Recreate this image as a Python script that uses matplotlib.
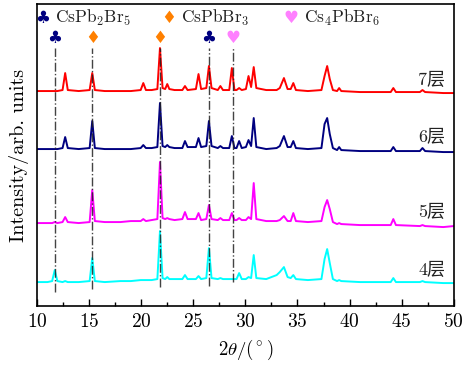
import matplotlib
matplotlib.use("Agg")
import matplotlib.pyplot as plt
import numpy as np

plt.rcParams['mathtext.fontset'] = 'cm'
plt.rcParams['font.family'] = ['cmr10', 'Noto Sans CJK SC', 'DejaVu Sans']
plt.rcParams['axes.formatter.use_mathtext'] = True

# 2theta sample points (degrees)
two_theta = [
    10.0, 11.0, 11.45, 11.7, 11.95, 12.45, 12.7, 12.95,
    14.0, 15.05, 15.3, 15.55, 16.5, 18.0, 19.0,
    19.95, 20.2, 20.45, 21.0, 21.55, 21.8, 22.05, 22.3, 22.5, 22.7, 23.2,
    23.95, 24.2, 24.45, 25.25, 25.5, 25.75, 26.25, 26.5, 26.75, 27.35, 27.6, 27.85,
    28.45, 28.7, 28.95, 29.15, 29.4, 29.65, 30.05, 30.3, 30.55, 30.8, 31.05,
    32.0, 33.0, 33.3, 33.7, 34.05, 34.35, 34.6, 34.85, 36.0,
    37.3, 37.6, 37.85, 38.1, 38.4, 38.8, 39.0, 39.2, 41.0,
    43.95, 44.2, 44.45, 46.75, 47.0, 47.25, 49.0, 50.0,
]

layer7 = [
    2, 2, 2, 2, 2, 3, 20, 3,
    2, 3, 20, 3, 2, 2, 2,
    3, 10, 3, 3, 4, 45, 5, 4, 9, 4, 3,
    3, 7, 3, 4, 19, 4, 5, 27, 5, 3, 7, 3,
    3, 25, 3, 3, 5, 3, 4, 17, 6, 26, 5,
    3, 3, 5, 15, 4, 4, 10, 3, 2,
    3, 17, 27, 14, 3, 2, 5, 2, 1,
    1, 5, 1, 1, 3, 1, 0, 0,
]
layer6 = [
    3, 3, 3, 3, 3, 4, 15, 4,
    3, 4, 31, 4, 3, 3, 3,
    4, 7, 4, 4, 5, 49, 6, 5, 7, 5, 4,
    4, 11, 5, 5, 14, 5, 6, 31, 6, 4, 6, 4,
    4, 16, 4, 4, 11, 4, 5, 12, 6, 34, 5,
    3, 4, 6, 16, 5, 5, 11, 4, 3,
    4, 28, 34, 18, 4, 2, 5, 2, 1,
    1, 5, 1, 1, 4, 1, 0, 0,
]
layer5 = [
    4, 4, 4, 5, 4, 5, 10, 5,
    4, 5, 37, 6, 5, 5, 6,
    6, 8, 6, 7, 8, 65, 9, 8, 9, 8, 7,
    8, 15, 8, 8, 14, 7, 8, 22, 8, 7, 9, 7,
    7, 14, 7, 7, 9, 7, 7, 10, 8, 44, 8,
    6, 6, 7, 11, 6, 6, 14, 6, 5,
    6, 20, 27, 18, 5, 3, 4, 3, 2,
    2, 8, 2, 1, 2, 1, 0, 1,
]
layer4 = [
    1, 1, 2, 13, 2, 1, 2, 1,
    1, 2, 25, 2, 1, 2, 2,
    3, 3, 3, 3, 4, 52, 5, 4, 6, 4, 4,
    4, 8, 4, 4, 7, 4, 5, 35, 5, 4, 5, 4,
    4, 4, 4, 4, 10, 4, 4, 6, 5, 28, 5,
    4, 8, 11, 16, 6, 5, 8, 4, 3,
    4, 24, 34, 20, 4, 2, 3, 2, 1,
    1, 5, 1, 1, 2, 1, 0, 0,
]

series = [layer7, layer6, layer5, layer4]
series_labels = ['7层', '6层', '5层', '4层']
colors = ['#ff0000', '#000080', '#ff00ff', '#00ffff']
offsets = [213, 154, 79, 23]
label_y = [226, 169, 94, 36]

ref_pos = [11.7, 15.3, 21.8, 26.5, 28.8]
ref_bottom = [14, 17, 19, 20, 24]
ref_symbol = ['♣', '♦', '♦', '♣', '♥']
phase_names = [r'$\mathrm{CsPb_2Br_5}$', r'$\mathrm{CsPbBr_3}$', r'$\mathrm{Cs_4PbBr_6}$']
phase_symbols = ['♣', '♦', '♥']
phase_colors = ['#000080', '#ff8000', '#ff80ff']
sym_color = {'♣': '#000080', '♦': '#ff8000', '♥': '#ff80ff'}

fig = plt.figure(figsize=(4.63, 3.67), dpi=100)
ax = fig.add_axes([0.080, 0.166, 0.900, 0.823])

x = np.array(two_theta)
for ys, c, off in zip(series, colors, offsets):
    ax.plot(x, np.array(ys) + off, color=c, lw=1.4, zorder=2)

for p, b, s in zip(ref_pos, ref_bottom, ref_symbol):
    ax.plot([p, p], [b, 258], color='#222222', lw=1.0, ls='-.', alpha=0.85, zorder=3)
    ax.text(p, 268, s, color=sym_color[s], ha='center', va='center', fontsize=12,
            family='DejaVu Sans')

hx = [10.5, 22.6, 34.4]
for hxi, sym, name, col in zip(hx, phase_symbols, phase_names, phase_colors):
    ax.text(hxi, 288, sym, color=col, ha='center', va='center', fontsize=12, family='DejaVu Sans')
    ax.text(hxi + 1.2, 288, name, color='#222222', ha='left', va='center', fontsize=12.5)

for lab, ly in zip(series_labels, label_y):
    ax.text(49.2, ly, lab, ha='right', va='center', fontsize=13, color='#222222',
            family=['cmr10', 'Noto Sans CJK SC'])

ax.set_xlim(10, 50)
ax.set_ylim(0, 302)
ax.set_xticks([10, 15, 20, 25, 30, 35, 40, 45, 50])
ax.set_xticks(np.arange(12.5, 50, 5), minor=True)
ax.set_yticks([])
ax.tick_params(axis='x', which='major', direction='in', length=5, width=1, labelsize=14, pad=5)
ax.tick_params(axis='x', which='minor', direction='in', length=3, width=1)
for sp in ax.spines.values():
    sp.set_linewidth(1.2)
ax.set_xlabel(r'$2\theta/(^\circ)$', fontsize=13.5, labelpad=5)
ax.set_ylabel('Intensity/arb. units', fontsize=14.5, labelpad=6)

fig.savefig('out.png', dpi=100)
